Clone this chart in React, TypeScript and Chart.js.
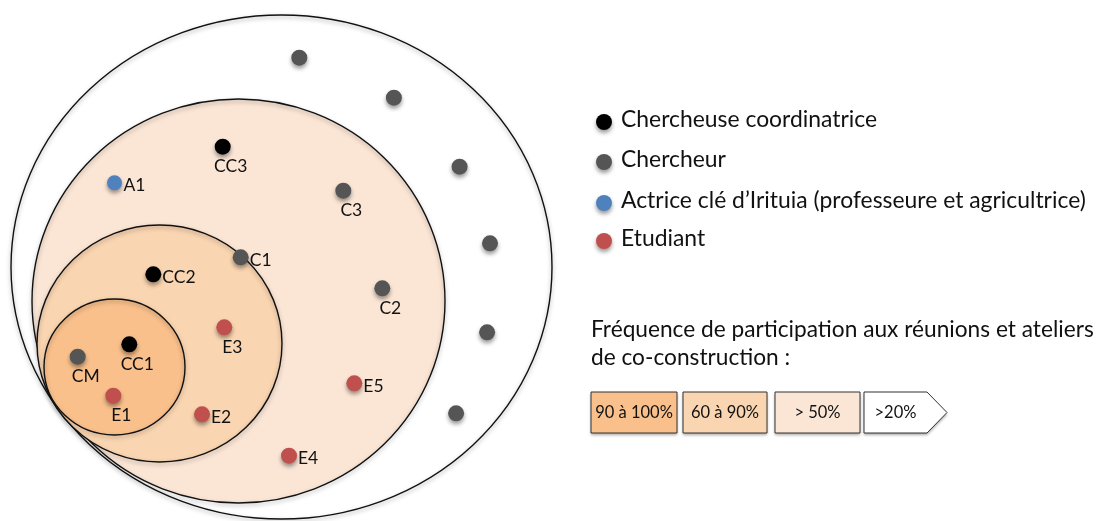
import { useEffect, useRef } from "react";
import { Chart, registerables } from "chart.js";

Chart.register(...registerables);

// Participation zones, from the largest to the smallest (diagram units)
const zoneLabels = [">20%", "> 50%", "60 à 90%", "90 à 100%"];
const zoneCenterX = [281.5, 238.5, 159.5, 114.5];
const zoneCenterY = [267, 301, 343.5, 367];
const zoneRadiusX = [270.5, 206.5, 122.5, 70.5];
const zoneRadiusY = [252, 202, 118.5, 68];
const zoneColors = ["#FFFFFF", "#FBE6D6", "#FAD5B1", "#F9C08C"];

// Roles
const roleLabels = [
  "Chercheuse coordinatrice",
  "Chercheur",
  "Actrice clé d’Irituia (professeure et agricultrice)",
  "Etudiant",
];
const roleColors = ["#000000", "#555555", "#4F81BD", "#C0504D"];

// Chercheuses coordinatrices
const coordX = [129.3, 153.3, 222.7];
const coordY = [344.3, 274.3, 146.7];
const coordNames = ["CC1", "CC2", "CC3"];
const coordSides = ["below", "right", "below"];

// Chercheurs
const researcherX = [240.7, 382.3, 343.3, 77.7, 299.3, 393.9, 459.6, 490, 487.1, 456.1];
const researcherY = [257.3, 288.3, 190.7, 356.7, 57.7, 97.7, 166.7, 243.3, 332.3, 413.3];
const researcherNames = ["C1", "C2", "C3", "CM", "", "", "", "", "", ""];
const researcherSides = ["right", "below", "below", "below", "", "", "", "", "", ""];

// Actrice clé
const actorX = [114.5];
const actorY = [182.7];
const actorNames = ["A1"];
const actorSides = ["right"];

// Etudiants
const studentX = [113.3, 202, 224.3, 289, 354.3];
const studentY = [395.7, 414.3, 327.3, 455.7, 383.3];
const studentNames = ["E1", "E2", "E3", "E4", "E5"];
const studentSides = ["below", "right", "below", "right", "right"];

const frequencyTitle = [
  "Fréquence de participation aux réunions et ateliers",
  "de co-construction :",
];

const FONT = "Lato, 'Noto Sans', sans-serif";

function points(xs: number[], ys: number[], names: string[], sides: string[]) {
  return xs.map((x, i) => ({ x, y: ys[i], name: names[i], side: sides[i] }));
}

const diagramPlugin = {
  id: "diagram",
  beforeDatasetsDraw(chart: any) {
    const { ctx } = chart;
    const xs = chart.scales.x;
    const ys = chart.scales.y;
    ctx.save();
    for (let i = 0; i < zoneLabels.length; i++) {
      const cx = xs.getPixelForValue(zoneCenterX[i]);
      const cy = ys.getPixelForValue(zoneCenterY[i]);
      const rx = Math.abs(xs.getPixelForValue(zoneCenterX[i] + zoneRadiusX[i]) - cx);
      const ry = Math.abs(ys.getPixelForValue(zoneCenterY[i] + zoneRadiusY[i]) - cy);
      ctx.beginPath();
      ctx.ellipse(cx, cy, rx, ry, 0, 0, Math.PI * 2);
      ctx.shadowColor = "transparent";
      ctx.fillStyle = zoneColors[i];
      ctx.fill();
      ctx.shadowColor = "rgba(0,0,0,0.35)";
      ctx.shadowBlur = 4;
      ctx.shadowOffsetY = 2;
      ctx.lineWidth = 1.4;
      ctx.strokeStyle = "#111111";
      ctx.stroke();
    }
    ctx.restore();
    ctx.save();
    ctx.shadowColor = "rgba(0,0,0,0.4)";
    ctx.shadowBlur = 4;
    ctx.shadowOffsetY = 3;
  },
  afterDatasetsDraw(chart: any) {
    const { ctx } = chart;
    ctx.restore();
    const xs = chart.scales.x;
    const ys = chart.scales.y;

    // point labels
    ctx.save();
    ctx.fillStyle = "#111111";
    ctx.font = `17.5px ${FONT}`;
    ctx.textBaseline = "middle";
    chart.data.datasets.forEach((ds: any) => {
      ds.data.forEach((p: any) => {
        if (!p.name) return;
        const px = xs.getPixelForValue(p.x);
        const py = ys.getPixelForValue(p.y);
        if (p.side === "below") {
          ctx.textAlign = "center";
          ctx.fillText(p.name, px + 8, py + 20);
        } else {
          ctx.textAlign = "left";
          ctx.fillText(p.name, px + 9, py + 3);
        }
      });
    });
    ctx.restore();

    // role legend
    const legendX = 604;
    const legendY = [120, 160, 201, 239];
    chart.data.datasets.forEach((ds: any, i: number) => {
      ctx.save();
      ctx.shadowColor = "rgba(0,0,0,0.4)";
      ctx.shadowBlur = 4;
      ctx.shadowOffsetY = 3;
      ctx.beginPath();
      ctx.arc(legendX, legendY[i] + 2, 8, 0, Math.PI * 2);
      ctx.fillStyle = ds.backgroundColor;
      ctx.fill();
      ctx.restore();
      ctx.save();
      ctx.fillStyle = "#111111";
      ctx.font = `22.9px ${FONT}`;
      ctx.textBaseline = "middle";
      ctx.textAlign = "left";
      ctx.fillText(ds.label, 621, legendY[i]);
      ctx.restore();
    });

    // frequency legend
    ctx.save();
    ctx.fillStyle = "#111111";
    ctx.font = `22.7px ${FONT}`;
    ctx.textBaseline = "middle";
    ctx.textAlign = "left";
    frequencyTitle.forEach((line, i) => ctx.fillText(line, 591, 330 + i * 28));
    ctx.restore();

    const boxTop = 392;
    const boxBottom = 433;
    const boxes = [
      { l: 591, r: 677 },
      { l: 683, r: 767 },
      { l: 775, r: 860 },
      { l: 864, r: 927, tip: 947 },
    ];
    const order = [...zoneLabels.keys()].reverse();
    order.forEach((zi, k) => {
      const b: any = boxes[k];
      ctx.save();
      ctx.beginPath();
      ctx.moveTo(b.l, boxTop);
      ctx.lineTo(b.r, boxTop);
      if (b.tip) ctx.lineTo(b.tip, (boxTop + boxBottom) / 2);
      ctx.lineTo(b.r, boxBottom);
      ctx.lineTo(b.l, boxBottom);
      ctx.closePath();
      ctx.shadowColor = "rgba(0,0,0,0.35)";
      ctx.shadowBlur = 3;
      ctx.shadowOffsetY = 2;
      ctx.fillStyle = zoneColors[zi];
      ctx.fill();
      ctx.shadowColor = "transparent";
      ctx.lineWidth = 1;
      ctx.strokeStyle = "#333333";
      ctx.stroke();
      ctx.fillStyle = "#111111";
      ctx.font = `16.5px ${FONT}`;
      ctx.textAlign = "center";
      ctx.textBaseline = "middle";
      ctx.fillText(zoneLabels[zi], (b.l + b.r) / 2, (boxTop + boxBottom) / 2);
      ctx.restore();
    });
  },
};

export default function App() {
  const ref = useRef<HTMLCanvasElement>(null);
  useEffect(() => {
    document.body.style.margin = "0";
    const series = [
      points(coordX, coordY, coordNames, coordSides),
      points(researcherX, researcherY, researcherNames, researcherSides),
      points(actorX, actorY, actorNames, actorSides),
      points(studentX, studentY, studentNames, studentSides),
    ];
    const chart = new Chart(ref.current as HTMLCanvasElement, {
      type: "scatter",
      data: {
        datasets: series.map((data, i) => ({
          label: roleLabels[i],
          data,
          backgroundColor: roleColors[i],
          borderColor: roleColors[i],
          borderWidth: 0,
          pointRadius: i === 2 ? 7.5 : 8,
          pointHoverRadius: 8,
          clip: false,
        })),
      },
      options: {
        animation: false,
        responsive: false,
        devicePixelRatio: 1,
        layout: { padding: 0, autoPadding: false },
        events: [],
        scales: {
          x: { type: "linear", min: 0, max: 1099, display: false },
          y: { type: "linear", min: 0, max: 521, reverse: true, display: false },
        },
        plugins: {
          legend: { display: false },
          tooltip: { enabled: false },
        },
      },
      plugins: [diagramPlugin],
    } as any);
    return () => chart.destroy();
  }, []);
  return (
    <div style={{ width: 1099, height: 521, background: "#ffffff" }}>
      <canvas ref={ref} width={1099} height={521} style={{ display: "block" }} />
    </div>
  );
}
